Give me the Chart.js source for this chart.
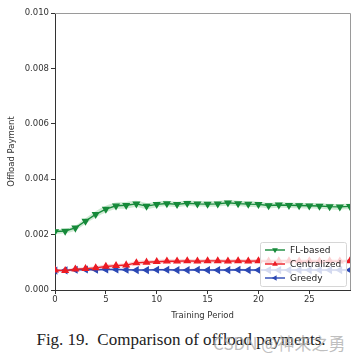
<!DOCTYPE html>
<html>
<head>
<meta charset="utf-8">
<script src="https://cdn.jsdelivr.net/npm/chart.js@4.4.0/dist/chart.umd.min.js"></script>
<style>
  html, body { margin: 0; padding: 0; background: #fff; }
  #wrap { position: relative; width: 362px; height: 361px; }
  #chart { position: absolute; left: 0; top: 0; }
  #caption {
    position: absolute; left: 0; top: 330px; width: 362px; text-align: center;
    font-family: "Liberation Serif", serif; font-size: 17px; color: #222; white-space: pre;
  }
  #mark {
    position: absolute; left: 213px; top: 330px;
    font-family: "Noto Sans CJK SC", sans-serif; font-size: 17px; color: rgba(170,170,170,0.75);
  }
</style>
</head>
<body>
<div id="wrap">
  <canvas id="chart" width="362" height="325"></canvas>
  <div id="caption">Fig. 19.  Comparison of offload payments.</div>
  <div id="mark">CSDN @神来之勇</div>
</div>
<script>
// training periods
var periods = [0,1,2,3,4,5,6,7,8,9,10,11,12,13,14,15,16,17,18,19,20,21,22,23,24,25,26,27,28,29];

// mean payments
var flBased = [0.00211,0.00213,0.00224,0.00249,0.00273,0.00292,0.00304,0.00306,0.00311,0.00303,
               0.00309,0.00312,0.00309,0.00313,0.00311,0.00310,0.00311,0.00315,0.00312,0.00310,
               0.00309,0.00305,0.00307,0.00306,0.00305,0.00304,0.00303,0.00301,0.00300,0.00302];
var centralized = [0.00072,0.00070,0.00075,0.00077,0.00080,0.00085,0.00088,0.00090,0.00098,0.00100,
                   0.00102,0.00104,0.00104,0.00105,0.00104,0.00105,0.00105,0.00104,0.00105,0.00104,
                   0.00105,0.00104,0.00105,0.00105,0.00104,0.00105,0.00104,0.00105,0.00104,0.00105];
var greedy = [0.00070,0.00071,0.00073,0.00074,0.00073,0.00074,0.00074,0.00073,0.00072,0.00072,
              0.00073,0.00073,0.00072,0.00072,0.00073,0.00072,0.00072,0.00072,0.00073,0.00072,
              0.00072,0.00072,0.00072,0.00072,0.00072,0.00072,0.00072,0.00072,0.00072,0.00072];

// spread of the shaded bands
var flSpread = [0.00008,0.00008,0.00009,0.00010,0.00011,0.00012,0.00012,0.00012,0.00011,0.00011,
                0.00010,0.00010,0.00010,0.00010,0.00010,0.00010,0.00010,0.00010,0.00010,0.00010,
                0.00010,0.00010,0.00010,0.00010,0.00010,0.00010,0.00010,0.00010,0.00010,0.00010];
var centralSpread = [0.00005,0.00005,0.00005,0.00006,0.00006,0.00007,0.00007,0.00007,0.00007,0.00007,
                     0.00007,0.00007,0.00007,0.00007,0.00007,0.00007,0.00007,0.00007,0.00007,0.00007,
                     0.00007,0.00007,0.00007,0.00007,0.00007,0.00007,0.00007,0.00007,0.00007,0.00007];
var greedySpread = [0.00004,0.00004,0.00004,0.00004,0.00004,0.00004,0.00004,0.00004,0.00004,0.00004,
                    0.00004,0.00004,0.00004,0.00004,0.00004,0.00004,0.00004,0.00004,0.00004,0.00004,
                    0.00004,0.00004,0.00004,0.00004,0.00004,0.00004,0.00004,0.00004,0.00004,0.00004];

var yTicks = [0, 0.002, 0.004, 0.006, 0.008, 0.010];
var xTicks = [0, 5, 10, 15, 20, 25];

var seriesNames = ['FL-based', 'Centralized', 'Greedy'];
var seriesColors = ['#168a3a', '#ec1c24', '#2b48b4'];
var bandColors = ['rgba(60,170,80,0.25)', 'rgba(240,60,70,0.22)', 'rgba(70,100,200,0.22)'];
var markerRot = [180, 0, 270];

function pts(arr, spread, sign) {
    return periods.map(function(p, i) {
        return { x: p, y: arr[i] + (spread ? sign * spread[i] : 0) };
    });
}

var means = [flBased, centralized, greedy];
var spreads = [flSpread, centralSpread, greedySpread];

var datasets = [];
// bands first
means.forEach(function(m, k) {
    datasets.push({
        label: seriesNames[k] + ' upper', data: pts(m, spreads[k], 1),
        borderWidth: 0, pointRadius: 0, fill: '+1', backgroundColor: bandColors[k],
        tension: 0.3, order: 10
    });
    datasets.push({
        label: seriesNames[k] + ' lower', data: pts(m, spreads[k], -1),
        borderWidth: 0, pointRadius: 0, fill: false, backgroundColor: bandColors[k],
        tension: 0.3, order: 10
    });
});
// lines drawn last
means.forEach(function(m, k) {
    datasets.push({
        label: seriesNames[k], data: pts(m, null, 0),
        borderColor: seriesColors[k], backgroundColor: seriesColors[k],
        borderWidth: 1.4, pointStyle: 'triangle', pointRadius: 3.3,
        pointRotation: markerRot[k], fill: false, order: k
    });
});

// top/right spines + legend box
var framePlugin = {
    id: 'frame',
    afterDraw: function(chart) {
        var ctx = chart.ctx, a = chart.chartArea;
        ctx.save();
        ctx.strokeStyle = '#9a9a9a';
        ctx.lineWidth = 1;
        ctx.beginPath();
        ctx.moveTo(a.left, a.top + 0.5);
        ctx.lineTo(a.right + 0.5, a.top + 0.5);
        ctx.lineTo(a.right + 0.5, a.bottom);
        ctx.stroke();

        // legend
        var bx = 260, by = 242, bw = 86, bh = 44;
        ctx.fillStyle = 'rgba(255,255,255,0.8)';
        ctx.strokeStyle = '#d6d6d6';
        ctx.beginPath();
        ctx.roundRect(bx + 0.5, by + 0.5, bw, bh, 2);
        ctx.fill();
        ctx.stroke();
        ctx.font = '9px "DejaVu Sans"';
        ctx.textBaseline = 'middle';
        for (var k = 0; k < 3; k++) {
            var ly = by + 8 + k * 14;
            ctx.strokeStyle = seriesColors[k];
            ctx.lineWidth = 1.4;
            ctx.beginPath();
            ctx.moveTo(bx + 5, ly);
            ctx.lineTo(bx + 25, ly);
            ctx.stroke();
            ctx.fillStyle = seriesColors[k];
            Chart.helpers.drawPoint(ctx, { pointStyle: 'triangle', radius: 3.3, rotation: markerRot[k], borderWidth: 0 }, bx + 15, ly);
            ctx.fillStyle = '#222';
            ctx.fillText(seriesNames[k], bx + 30, ly + 0.5);
        }
        ctx.restore();
    }
};

new Chart(document.getElementById('chart'), {
    type: 'line',
    data: { datasets: datasets },
    options: {
        responsive: false,
        animation: false,
        layout: { padding: { top: 13, right: 12, left: 0, bottom: 0 } },
        plugins: { legend: { display: false }, tooltip: { enabled: false } },
        scales: {
            x: {
                type: 'linear', min: 0, max: 29,
                afterFit: function(s) { s.height = 35; },
                afterBuildTicks: function(s) { s.ticks = xTicks.map(function(v) { return { value: v }; }); },
                ticks: { color: '#333', font: { family: 'DejaVu Sans', size: 8.5 }, padding: 1, maxRotation: 0 },
                grid: { drawOnChartArea: false, drawTicks: true, tickLength: 4, color: '#333' },
                border: { color: '#333', width: 1 },
                title: { display: true, text: 'Training Period', color: '#333', font: { family: 'DejaVu Sans', size: 8.5 }, padding: { top: 1 } }
            },
            y: {
                min: 0, max: 0.010,
                afterFit: function(s) { s.width = 55; },
                afterBuildTicks: function(s) { s.ticks = yTicks.map(function(v) { return { value: v }; }); },
                ticks: {
                    color: '#333', font: { family: 'DejaVu Sans', size: 8.5 }, padding: 2,
                    callback: function(v) { return v.toFixed(3); }
                },
                grid: { drawOnChartArea: false, drawTicks: true, tickLength: 4, color: '#333' },
                border: { color: '#333', width: 1 },
                title: { display: true, text: 'Offload Payment', color: '#333', font: { family: 'DejaVu Sans', size: 8.5 }, padding: { top: 7, bottom: 0 } }
            }
        }
    },
    plugins: [framePlugin]
});
</script>
</body>
</html>
